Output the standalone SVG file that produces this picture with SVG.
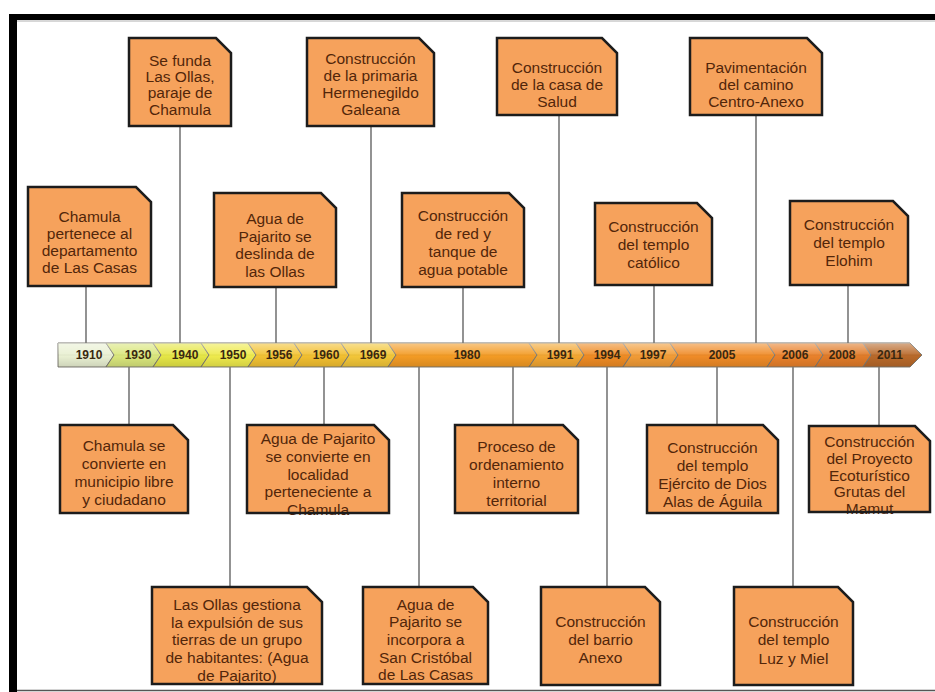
<svg xmlns="http://www.w3.org/2000/svg" width="935" height="692" viewBox="0 0 935 692">
<style>
.box{fill:#f6a25c;stroke:none}
.edge{fill:none;stroke:#1c1c1c;stroke-width:2.5;stroke-linejoin:miter}
.t{font-family:"Liberation Sans",Arial,sans-serif;font-size:15.5px;fill:#52260a;text-anchor:middle}
.yr{font-family:"Liberation Sans",Arial,sans-serif;font-size:12px;font-weight:bold;fill:#3a2810;text-anchor:middle}
.seg{stroke:#7d7a72;stroke-width:1}
.conn line{stroke:#4a4a4a;stroke-width:1.2}
</style>
<defs>
<linearGradient id="gloss" x1="0" y1="0" x2="0" y2="1">
<stop offset="0" stop-color="#ffffff" stop-opacity="0.45"/>
<stop offset="0.45" stop-color="#ffffff" stop-opacity="0.1"/>
<stop offset="0.55" stop-color="#000000" stop-opacity="0"/>
<stop offset="1" stop-color="#000000" stop-opacity="0.12"/>
</linearGradient>
</defs>
<rect x="0" y="0" width="935" height="692" fill="#ffffff"/>
<!-- frame -->
<rect x="9" y="14" width="926" height="6" fill="#000"/>
<rect x="9" y="14" width="8" height="678" fill="#000"/>
<line x1="17" y1="21" x2="935" y2="21" stroke="#b0b0b0" stroke-width="1"/>
<line x1="17" y1="690.5" x2="935" y2="690.5" stroke="#555" stroke-width="1.5"/>

<g id="connectors" class="conn">
<line x1="86" y1="286" x2="86" y2="343"/>
<line x1="180" y1="126" x2="180" y2="343"/>
<line x1="276" y1="287" x2="276" y2="343"/>
<line x1="371" y1="126" x2="371" y2="343"/>
<line x1="463" y1="287" x2="463" y2="343"/>
<line x1="559" y1="115" x2="559" y2="343"/>
<line x1="654" y1="285" x2="654" y2="343"/>
<line x1="756" y1="115" x2="756" y2="343"/>
<line x1="848" y1="285" x2="848" y2="343"/>
<line x1="129" y1="367" x2="129" y2="425"/>
<line x1="230" y1="367" x2="230" y2="587"/>
<line x1="324" y1="367" x2="324" y2="425"/>
<line x1="419" y1="367" x2="419" y2="587"/>
<line x1="513" y1="367" x2="513" y2="425"/>
<line x1="607" y1="367" x2="607" y2="587"/>
<line x1="717" y1="367" x2="717" y2="425"/>
<line x1="793" y1="367" x2="793" y2="587"/>
<line x1="879" y1="367" x2="879" y2="426"/>
</g>

<g id="timeline">
<polygon class="seg" fill="#e9f0d2" points="58,343 106,343 114,355 106,367 58,367"/>
<polygon class="seg" fill="#d9e67c" points="106,343 153,343 161,355 153,367 106,367 114,355"/>
<polygon class="seg" fill="#e5e646" points="153,343 201,343 209,355 201,367 153,367 161,355"/>
<polygon class="seg" fill="#eeea4c" points="201,343 248,343 256,355 248,367 201,367 209,355"/>
<polygon class="seg" fill="#f2c233" points="248,343 294,343 302,355 294,367 248,367 256,355"/>
<polygon class="seg" fill="#f2bf30" points="294,343 341,343 349,355 341,367 294,367 302,355"/>
<polygon class="seg" fill="#f2c638" points="341,343 388,343 396,355 388,367 341,367 349,355"/>
<polygon class="seg" fill="#f39b24" points="388,343 529,343 537,355 529,367 388,367 396,355"/>
<polygon class="seg" fill="#f2a631" points="529,343 576,343 584,355 576,367 529,367 537,355"/>
<polygon class="seg" fill="#ee8b24" points="576,343 623,343 631,355 623,367 576,367 584,355"/>
<polygon class="seg" fill="#f19b36" points="623,343 670,343 678,355 670,367 623,367 631,355"/>
<polygon class="seg" fill="#ef8b27" points="670,343 767,343 775,355 767,367 670,367 678,355"/>
<polygon class="seg" fill="#e9812b" points="767,343 815,343 823,355 815,367 767,367 775,355"/>
<polygon class="seg" fill="#e07b29" points="815,343 863,343 871,355 863,367 815,367 823,355"/>
<polygon class="seg" fill="#b8692a" points="863,343 910,343 922,355 910,367 863,367 871,355"/>
<polygon fill="url(#gloss)" points="58,343 910,343 922,355 910,367 58,367"/>
<text class="yr" x="89" y="359">1910</text>
<text class="yr" x="138" y="359">1930</text>
<text class="yr" x="185" y="359">1940</text>
<text class="yr" x="233" y="359">1950</text>
<text class="yr" x="279" y="359">1956</text>
<text class="yr" x="326" y="359">1960</text>
<text class="yr" x="373" y="359">1969</text>
<text class="yr" x="467" y="359">1980</text>
<text class="yr" x="560" y="359">1991</text>
<text class="yr" x="607" y="359">1994</text>
<text class="yr" x="653" y="359">1997</text>
<text class="yr" x="722" y="359">2005</text>
<text class="yr" x="795" y="359">2006</text>
<text class="yr" x="842" y="359">2008</text>
<text class="yr" x="890" y="359">2011</text>
</g>

<g id="n-1940">
<polygon class="box" points="129,38 216,38 231,53 231,126 129,126"/>
<text class="t" x="180" y="66">Se funda</text>
<text class="t" x="180" y="82">Las Ollas,</text>
<text class="t" x="180" y="98">paraje de</text>
<text class="t" x="180" y="115">Chamula</text>
<polygon class="edge" points="129,38 216,38 231,53 231,126 129,126"/>
</g>
<g id="n-1969">
<polygon class="box" points="307,38 419,38 434,53 434,126 307,126"/>
<text class="t" x="370.5" y="64">Construcción</text>
<text class="t" x="370.5" y="81">de la primaria</text>
<text class="t" x="370.5" y="98">Hermenegildo</text>
<text class="t" x="370.5" y="115">Galeana</text>
<polygon class="edge" points="307,38 419,38 434,53 434,126 307,126"/>
</g>
<g id="n-1991">
<polygon class="box" points="497,38 602,38 617,53 617,115 497,115"/>
<text class="t" x="557" y="73">Construcción</text>
<text class="t" x="557" y="90">de la casa de</text>
<text class="t" x="557" y="107">Salud</text>
<polygon class="edge" points="497,38 602,38 617,53 617,115 497,115"/>
</g>
<g id="n-2005">
<polygon class="box" points="690,38 807,38 822,53 822,115 690,115"/>
<text class="t" x="756" y="73">Pavimentación</text>
<text class="t" x="756" y="90">del camino</text>
<text class="t" x="756" y="107">Centro-Anexo</text>
<polygon class="edge" points="690,38 807,38 822,53 822,115 690,115"/>
</g>
<g id="n-1910">
<polygon class="box" points="28,187 136,187 151,202 151,286 28,286"/>
<text class="t" x="89.5" y="222">Chamula</text>
<text class="t" x="89.5" y="239">pertenece al</text>
<text class="t" x="89.5" y="256">departamento</text>
<text class="t" x="89.5" y="273">de Las Casas</text>
<polygon class="edge" points="28,187 136,187 151,202 151,286 28,286"/>
</g>
<g id="n-1956">
<polygon class="box" points="214,193 321,193 336,208 336,287 214,287"/>
<text class="t" x="275" y="224">Agua de</text>
<text class="t" x="275" y="242">Pajarito se</text>
<text class="t" x="275" y="259">deslinda de</text>
<text class="t" x="275" y="277">las Ollas</text>
<polygon class="edge" points="214,193 321,193 336,208 336,287 214,287"/>
</g>
<g id="n-1980a">
<polygon class="box" points="402,193 509,193 524,208 524,287 402,287"/>
<text class="t" x="463" y="221">Construcción</text>
<text class="t" x="463" y="239">de red y</text>
<text class="t" x="463" y="257">tanque de</text>
<text class="t" x="463" y="275">agua potable</text>
<polygon class="edge" points="402,193 509,193 524,208 524,287 402,287"/>
</g>
<g id="n-1997">
<polygon class="box" points="595,203 697,203 712,218 712,285 595,285"/>
<text class="t" x="653.5" y="232">Construcción</text>
<text class="t" x="653.5" y="250">del templo</text>
<text class="t" x="653.5" y="268">católico</text>
<polygon class="edge" points="595,203 697,203 712,218 712,285 595,285"/>
</g>
<g id="n-2008">
<polygon class="box" points="790,201 893,201 908,216 908,285 790,285"/>
<text class="t" x="849" y="230">Construcción</text>
<text class="t" x="849" y="248">del templo</text>
<text class="t" x="849" y="266">Elohim</text>
<polygon class="edge" points="790,201 893,201 908,216 908,285 790,285"/>
</g>
<g id="n-1930">
<polygon class="box" points="60,425 173,425 188,440 188,513 60,513"/>
<text class="t" x="124" y="451">Chamula se</text>
<text class="t" x="124" y="469">convierte en</text>
<text class="t" x="124" y="487">municipio libre</text>
<text class="t" x="124" y="505">y ciudadano</text>
<polygon class="edge" points="60,425 173,425 188,440 188,513 60,513"/>
</g>
<g id="n-1960">
<polygon class="box" points="247,425 374,425 389,440 389,513 247,513"/>
<text class="t" x="318" y="444">Agua de Pajarito</text>
<text class="t" x="318" y="462">se convierte en</text>
<text class="t" x="318" y="480">localidad</text>
<text class="t" x="318" y="497">perteneciente a</text>
<text class="t" x="318" y="515">Chamula</text>
<polygon class="edge" points="247,425 374,425 389,440 389,513 247,513"/>
</g>
<g id="n-1980b">
<polygon class="box" points="455,425 563,425 578,440 578,513 455,513"/>
<text class="t" x="516.5" y="452">Proceso de</text>
<text class="t" x="516.5" y="470">ordenamiento</text>
<text class="t" x="516.5" y="488">interno</text>
<text class="t" x="516.5" y="506">territorial</text>
<polygon class="edge" points="455,425 563,425 578,440 578,513 455,513"/>
</g>
<g id="n-2005b">
<polygon class="box" points="647,425 763,425 778,440 778,513 647,513"/>
<text class="t" x="712.5" y="453">Construcción</text>
<text class="t" x="712.5" y="471">del templo</text>
<text class="t" x="712.5" y="489">Ejército de Dios</text>
<text class="t" x="712.5" y="507">Alas de Águila</text>
<polygon class="edge" points="647,425 763,425 778,440 778,513 647,513"/>
</g>
<g id="n-2011">
<polygon class="box" points="809,426 915,426 930,441 930,512 809,512"/>
<text class="t" x="869.5" y="447">Construcción</text>
<text class="t" x="869.5" y="464">del Proyecto</text>
<text class="t" x="869.5" y="481">Ecoturístico</text>
<text class="t" x="869.5" y="497">Grutas del</text>
<text class="t" x="869.5" y="514">Mamut</text>
<polygon class="edge" points="809,426 915,426 930,441 930,512 809,512"/>
</g>
<g id="n-1950">
<polygon class="box" points="152,587 307,587 322,602 322,684 152,684"/>
<text class="t" x="237" y="610">Las Ollas gestiona</text>
<text class="t" x="237" y="628">la expulsión de sus</text>
<text class="t" x="237" y="645">tierras de un grupo</text>
<text class="t" x="237" y="663">de habitantes: (Agua</text>
<text class="t" x="237" y="681">de Pajarito)</text>
<polygon class="edge" points="152,587 307,587 322,602 322,684 152,684"/>
</g>
<g id="n-1980c">
<polygon class="box" points="363,587 473,587 488,602 488,684 363,684"/>
<text class="t" x="425.5" y="610">Agua de</text>
<text class="t" x="425.5" y="627">Pajarito se</text>
<text class="t" x="425.5" y="645">incorpora a</text>
<text class="t" x="425.5" y="663">San Cristóbal</text>
<text class="t" x="425.5" y="680">de Las Casas</text>
<polygon class="edge" points="363,587 473,587 488,602 488,684 363,684"/>
</g>
<g id="n-1994">
<polygon class="box" points="541,587 645,587 660,602 660,685 541,685"/>
<text class="t" x="600.5" y="627">Construcción</text>
<text class="t" x="600.5" y="645">del barrio</text>
<text class="t" x="600.5" y="663">Anexo</text>
<polygon class="edge" points="541,587 645,587 660,602 660,685 541,685"/>
</g>
<g id="n-2006">
<polygon class="box" points="734,587 838,587 853,602 853,685 734,685"/>
<text class="t" x="793.5" y="627">Construcción</text>
<text class="t" x="793.5" y="645">del templo</text>
<text class="t" x="793.5" y="664">Luz y Miel</text>
<polygon class="edge" points="734,587 838,587 853,602 853,685 734,685"/>
</g>
</svg>
